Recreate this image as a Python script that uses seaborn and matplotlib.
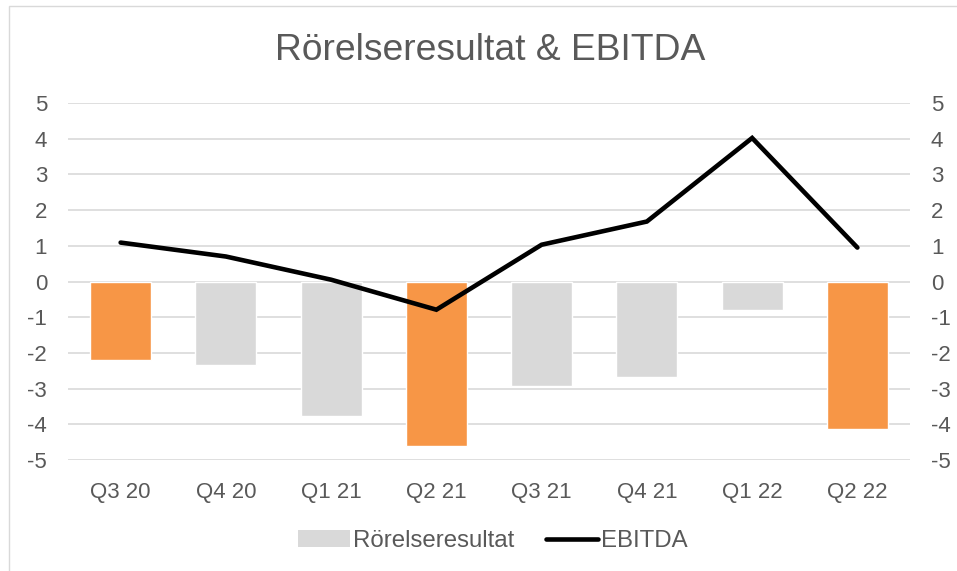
import numpy as np
import matplotlib
matplotlib.use("Agg")
import matplotlib.pyplot as plt
import seaborn as sns
from matplotlib.patches import Patch
from matplotlib.lines import Line2D

# data
quarters = ["Q3 20", "Q4 20", "Q1 21", "Q2 21", "Q3 21", "Q4 21", "Q1 22", "Q2 22"]
rorelseresultat = [-2.21, -2.35, -3.78, -4.60, -2.94, -2.68, -0.79, -4.12]
ebitda = [1.09, 0.70, 0.05, -0.79, 1.03, 1.68, 4.02, 0.95]
highlight = [True, False, False, True, False, False, False, True]

orange = "#F79646"
grey = "#D9D9D9"
text_col = "#595959"

sns.set_theme(style="white")
plt.rcParams["font.family"] = ["Liberation Sans", "DejaVu Sans"]
plt.rcParams["axes.unicode_minus"] = False

fig = plt.figure(figsize=(9.57, 5.71), dpi=100)
ax = fig.add_axes([68 / 957, 1 - 460 / 571, (910 - 68) / 957, (460 - 103) / 571])

bar_colors = [orange if h else grey for h in highlight]
sns.barplot(x=quarters, y=rorelseresultat, hue=quarters, palette=bar_colors,
            legend=False, width=0.58, saturation=1, ax=ax, zorder=2)
sns.lineplot(x=np.arange(len(quarters)), y=ebitda, color="black", linewidth=3.3,
             ax=ax, zorder=3, solid_capstyle="round", solid_joinstyle="miter")

ax.set_xlim(-0.5, len(quarters) - 0.5)
ax.set_ylim(-5, 5)
ax.set_yticks(range(-5, 6))
ax.yaxis.grid(True, color=grey, linewidth=1.2, zorder=0)
ax.set_axisbelow(True)
for s in ax.spines.values():
    s.set_visible(False)
ax.set_xlabel("")
ax.set_ylabel("")
ax.tick_params(axis="y", length=0, pad=15, labelsize=16, labelcolor=text_col)
ax.tick_params(axis="x", length=0, pad=16, labelsize=16, labelcolor=text_col)

ax2 = ax.twinx()
ax2.set_ylim(-5, 5)
ax2.set_yticks(range(-5, 6))
ax2.grid(False)
for s in ax2.spines.values():
    s.set_visible(False)
ax2.tick_params(axis="y", length=0, pad=15, labelsize=16, labelcolor=text_col)

fig.text(490 / 957, 1 - 50 / 571, "Rörelseresultat & EBITDA", ha="center", va="center",
         fontsize=26.8, color=text_col)

handles = [Patch(facecolor=grey, edgecolor="none", label="Rörelseresultat"),
           Line2D([0], [0], color="black", linewidth=3.3, solid_capstyle="round", label="EBITDA")]
fig.legend(handles=handles, loc="center", bbox_to_anchor=(493 / 957, 1 - 541 / 571), ncol=2,
           frameon=False, fontsize=17.3, labelcolor=text_col, handlelength=2.15,
           handletextpad=0.15, columnspacing=1.3)

# chart border like the spreadsheet frame
fig.patches.append(plt.Rectangle((9 / 957, -0.01), 1.0, 1 - 6 / 571 + 0.01,
                                 transform=fig.transFigure, fill=False,
                                 edgecolor="#D9D9D9", linewidth=1))

fig.savefig("out.png", dpi=100)
